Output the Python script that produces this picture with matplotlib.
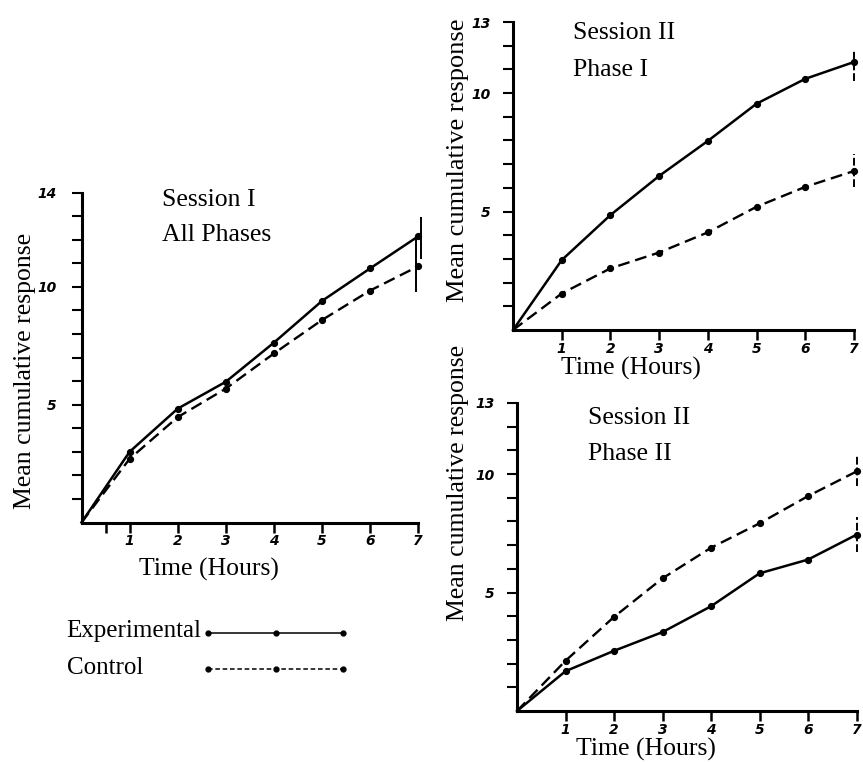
import matplotlib
matplotlib.use("Agg")
import matplotlib.pyplot as plt
import matplotlib.transforms as mtransforms

# ---------------- data ----------------
hours = [0, 1, 2, 3, 4, 5, 6, 7]
hour_labels = ["1", "2", "3", "4", "5", "6", "7"]

s1_exp = [0, 3.00, 4.83, 5.97, 7.63, 9.40, 10.78, 12.14]
s1_ctl = [0, 2.70, 4.47, 5.68, 7.17, 8.59, 9.84, 10.87]
s1_exp_err = [0.95, 0.83]     # lower, upper at hour 7
s1_ctl_err = [1.07, 1.20]

s2p1_exp = [0, 2.95, 4.85, 6.50, 7.98, 9.55, 10.60, 11.31]
s2p1_ctl = [0, 1.54, 2.60, 3.27, 4.12, 5.20, 6.04, 6.71]
s2p1_exp_err = [0.78, 0.49]
s2p1_ctl_err = [0.67, 0.73]

s2p2_exp = [0, 1.68, 2.54, 3.33, 4.42, 5.81, 6.39, 7.44]
s2p2_ctl = [0, 2.12, 3.97, 5.60, 6.89, 7.92, 9.07, 10.11]
s2p2_exp_err = [0.73, 0.73]
s2p2_ctl_err = [0.62, 0.70]

panel_titles = [("Session I", "All Phases"), ("Session II", "Phase I"), ("Session II", "Phase II")]
y_tops = [14, 13, 13]
ylabel = "Mean cumulative response"
xlabel = "Time (Hours)"
legend_labels = ["Experimental", "Control"]

# ---------------- figure ----------------
W, H = 863, 762
fig = plt.figure(figsize=(W / 100, H / 100), dpi=100)
fig.patch.set_facecolor("white")

SERIF = ["Liberation Serif", "DejaVu Serif"]
TICKFONT = dict(family="DejaVu Sans", weight="bold", style="italic", size=10)


def px_rect(left, origin_y, width, height):
    return [left / W, (H - origin_y) / H, width / W, height / H]


def fx(x):
    return x / W


def fy(y):
    return 1 - y / H


XMAX = 7.06
axes_specs = [
    px_rect(81.5, 522.5, XMAX * 48.1, 330),
    px_rect(513, 330, XMAX * 48.7, 308),
    px_rect(517, 711, XMAX * 48.5, 308),
]

series = [
    (s1_exp, s1_ctl, s1_exp_err, s1_ctl_err),
    (s2p1_exp, s2p1_ctl, s2p1_exp_err, s2p1_ctl_err),
    (s2p2_exp, s2p2_ctl, s2p2_exp_err, s2p2_ctl_err),
]

DASH = (0, (5, 2.5))

axes = []
for i, rect in enumerate(axes_specs):
    ax = fig.add_axes(rect)
    axes.append(ax)
    exp, ctl, eerr, cerr = series[i]
    ax.plot(hours, exp, color="black", lw=1.8, marker="o", ms=4.2,
            markevery=list(range(1, 8)), clip_on=False, zorder=3)
    ax.plot(hours, ctl, color="black", lw=1.7, linestyle=DASH, marker="o", ms=4.2,
            markevery=list(range(1, 8)), clip_on=False, zorder=3)
    # range bars at the last hour
    e1 = ax.errorbar([hours[-1]], [exp[-1]], yerr=[[eerr[0]], [eerr[1]]], fmt="none",
                     ecolor="black", elinewidth=1.4, capsize=0, clip_on=False)
    e2 = ax.errorbar([hours[-1]], [ctl[-1]], yerr=[[cerr[0]], [cerr[1]]], fmt="none",
                     ecolor="black", elinewidth=1.4, capsize=0, clip_on=False)
    for e, shift in ((e1, 3), (e2, -2)):
        for c in e[2]:
            c.set_clip_on(False)
            if i > 0:
                c.set_linestyle((0, (4, 1.5)))
            else:
                c.set_transform(c.get_transform() + mtransforms.ScaledTranslation(
                    shift / 100, 0, fig.dpi_scale_trans))

    top = y_tops[i]
    ax.set_xlim(0, XMAX)
    ax.set_ylim(0, top)
    for s in ("top", "right"):
        ax.spines[s].set_visible(False)
    for s in ("left", "bottom"):
        ax.spines[s].set_linewidth(2.2)
        ax.spines[s].set_color("black")
    ax.spines["left"].set_bounds(0, top)
    ax.spines["bottom"].set_bounds(0, 7)
    ax.set_facecolor("none")

    ax.set_xticks(hours[1:])
    ax.set_xticklabels(hour_labels, **TICKFONT)
    if i == 0:
        ax.set_xticks([0.5], minor=True)
    ax.tick_params(axis="x", which="both", direction="out", length=7, width=1.8, pad=1.5)

    yt = list(range(1, top + 1))
    ax.set_yticks(yt)
    ax.set_yticklabels([str(v) if v in (5, 10, top) else "" for v in yt], **TICKFONT)
    ax.tick_params(axis="y", direction="out", length=7, width=1.5, pad=11 if i == 0 else 9)

# titles inside panels
title_pos = [((162, 200), (162, 235)), ((573, 33), (573, 70)), ((588, 418), (588, 454))]
for (t1, t2), ((x1, y1), (x2, y2)) in zip(panel_titles, title_pos):
    fig.text(fx(x1), fy(y1), t1, family=SERIF, size=18.5, ha="left", va="center")
    fig.text(fx(x2), fy(y2), t2, family=SERIF, size=18.5, ha="left", va="center")

# axis labels
ylab_pos = [(25, 371, 18.5), (458, 160, 19), (458, 483, 18.5)]
for x, y, s in ylab_pos:
    fig.text(fx(x), fy(y), ylabel, family=SERIF, size=s, rotation=90, ha="center", va="center")
xlab_pos = [(209, 569), (631, 368), (646, 749)]
for x, y in xlab_pos:
    fig.text(fx(x), fy(y), xlabel, family=SERIF, size=18.5, ha="center", va="center")

# legend (manual, text left-aligned, sample lines to the right)
lax = fig.add_axes([fx(60), fy(690), fx(300), (690 - 610) / H])
lax.set_xlim(60, 360)
lax.set_ylim(690, 610)
lax.axis("off")
lax.text(66, 631, legend_labels[0], family=SERIF, size=18, ha="left", va="center")
lax.text(67, 668, legend_labels[1], family=SERIF, size=18, ha="left", va="center")
lax.plot([208, 276, 343], [633, 633, 633], color="black", lw=1.1, marker="o", ms=3.5)
lax.plot([208, 276, 343], [669, 669, 669], color="black", lw=1.1, linestyle=(0, (3, 1.8)),
         marker="o", ms=3.5)

fig.savefig("out.png", dpi=100, facecolor="white")
